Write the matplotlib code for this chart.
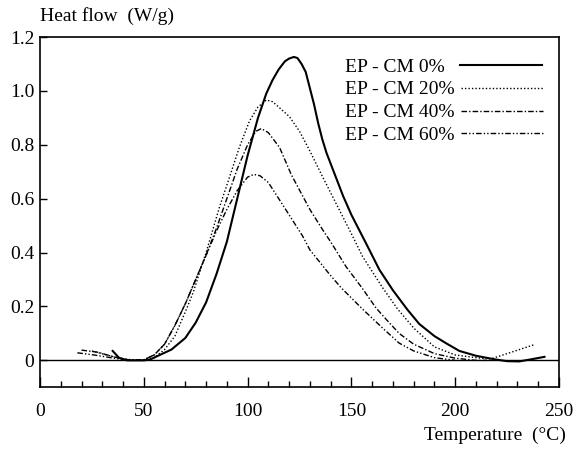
import numpy as np
import matplotlib.pyplot as plt
from matplotlib.ticker import MultipleLocator, FixedLocator

plt.rcParams['font.family'] = ['Liberation Serif', 'DejaVu Serif']
plt.rcParams['font.size'] = 14

# EP - CM 0% (solid)
t0 = [35, 38, 42, 50, 53, 57.7, 63.3, 70, 75, 80, 85, 90, 95, 100, 105, 109, 112, 115, 118,
      120, 122.3, 124, 126, 128, 130, 132, 134, 136, 138, 142, 146, 150, 154, 158, 163.5,
      170, 177, 182.7, 190, 195.5, 202, 210, 219.6, 225, 230.8, 236, 243]
h0 = [0.035, 0.01, 0.0, 0.0, 0.003, 0.02, 0.04, 0.083, 0.14, 0.215, 0.32, 0.44, 0.6, 0.76,
      0.9, 0.99, 1.04, 1.08, 1.11, 1.12, 1.126, 1.122, 1.10, 1.07, 1.01, 0.95, 0.88, 0.82,
      0.77, 0.69, 0.61, 0.54, 0.48, 0.42, 0.336, 0.26, 0.188, 0.135, 0.09, 0.064, 0.035,
      0.017, 0.003, -0.003, -0.004, 0.003, 0.013]

# EP - CM 20% (dotted)
t20 = [25, 32, 40, 48, 52, 55, 60, 65, 70, 73.7, 80, 86.5, 90, 96, 101, 105, 109, 112, 115,
       120.2, 125, 129.8, 136.2, 144.2, 150, 155.4, 165, 172.3, 180, 190, 200, 210, 217,
       225, 238]
h20 = [0.035, 0.02, 0.005, 0.0, 0.003, 0.01, 0.04, 0.09, 0.18, 0.25, 0.40, 0.57, 0.65,
       0.79, 0.89, 0.94, 0.966, 0.96, 0.94, 0.904, 0.85, 0.78, 0.68, 0.558, 0.47, 0.385,
       0.27, 0.19, 0.12, 0.05, 0.02, 0.01, 0.005, 0.025, 0.058]

# EP - CM 40% (dash-dot)
t40 = [20, 28, 36, 44, 50, 55, 60, 65, 70, 75, 80, 85, 90, 95, 100, 104, 106.6, 110, 115.4,
       121, 125, 130, 136.2, 140, 147.4, 155, 161.9, 167, 173, 180, 190, 200, 210, 215]
h40 = [0.038, 0.03, 0.012, 0.0, 0.002, 0.02, 0.06, 0.13, 0.21, 0.30, 0.39, 0.49, 0.6, 0.71,
       0.80, 0.85, 0.86, 0.845, 0.79, 0.69, 0.632, 0.56, 0.484, 0.44, 0.348, 0.27, 0.194,
       0.15, 0.10, 0.06, 0.025, 0.008, 0.0, 0.0]

# EP - CM 60% (dash-dot-dot)
t60 = [18, 26, 34, 42, 50, 55, 60, 65, 70, 75, 80, 85, 90, 95, 100, 103, 106, 110, 115,
       120, 126.6, 130, 139.4, 145, 155.4, 165, 173, 180, 190, 200]
h60 = [0.028, 0.02, 0.01, 0.0, 0.002, 0.02, 0.06, 0.13, 0.21, 0.30, 0.39, 0.48, 0.56, 0.63,
       0.68, 0.69, 0.685, 0.66, 0.60, 0.54, 0.46, 0.41, 0.32, 0.27, 0.19, 0.12, 0.064,
       0.035, 0.01, 0.0]

fig = plt.figure(figsize=(5.76, 4.5), dpi=100)
ax = fig.add_axes([40 / 576, 1 - 387.3 / 450, 519 / 576, 350.3 / 450])

ax.plot(t0, h0, color='black', lw=1.5, label='EP - CM 0%')
ax.plot(t20, h20, color='black', lw=1.0, ls=(0, (1, 1.5)), label='EP - CM 20%')
ax.plot(t40, h40, color='black', lw=1.0, ls=(0, (4, 1.5, 1, 1.5)), label='EP - CM 40%')
ax.plot(t60, h60, color='black', lw=1.0, ls=(0, (4, 1.5, 1, 1.5, 1, 1.5)), label='EP - CM 60%')
ax.axhline(0, color='black', lw=1.0)

ax.set_xlim(0, 250)
ax.set_ylim(-0.1, 1.2)
ax.xaxis.set_major_locator(MultipleLocator(50))
ax.xaxis.set_minor_locator(MultipleLocator(10))
ax.yaxis.set_major_locator(FixedLocator([0, 0.2, 0.4, 0.6, 0.8, 1.0, 1.2]))
ax.set_yticklabels(['0', '0.2', '0.4', '0.6', '0.8', '1.0', '1.2'])
ax.tick_params(axis='both', which='both', direction='in')
ax.tick_params(axis='x', which='major', length=7, width=1, pad=11)
ax.tick_params(axis='x', which='minor', length=4, width=1)
ax.tick_params(axis='y', which='major', length=5, width=1, pad=4)
for s in ax.spines.values():
    s.set_linewidth(1.2)

leg = ax.legend(loc='upper right', bbox_to_anchor=(0.969, 0.94), frameon=False,
                markerfirst=False, handlelength=4.2, handletextpad=0.35, labelspacing=0.27,
                borderpad=0, borderaxespad=0)
# text left-aligned in the column, first row gets a wider gap before its line
for col in leg._legend_handle_box.get_children():
    col.align = 'left'
    rows = col.get_children()
    rows[0].sep += 6.5

fig.text(40 / 576, 1 - 16 / 450, 'Heat flow  (W/g)', ha='left', va='center')
fig.text(566 / 576, 1 - 435 / 450, 'Temperature  (°C)', ha='right', va='center')

fig.savefig('out.png', dpi=100)
